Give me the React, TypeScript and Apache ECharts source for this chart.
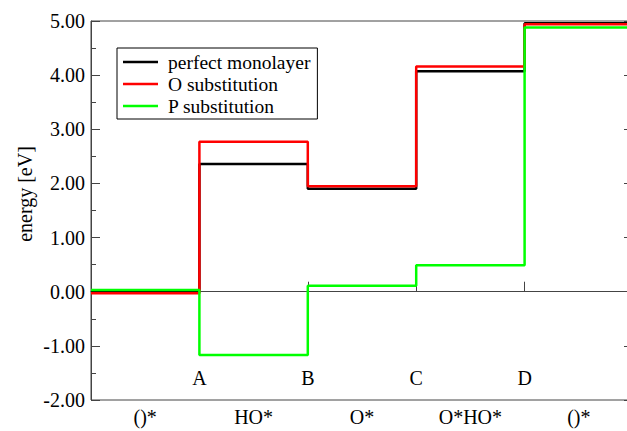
import React, { useEffect, useRef } from "react";
import * as echarts from "echarts";

const stepLabels = ["", "A", "B", "C", "D", ""];
const states = ["()*", "HO*", "O*", "O*HO*", "()*"];
const perfect = [0.0, 2.36, 1.9, 4.07, 4.96];
const oSub = [-0.03, 2.77, 1.95, 4.16, 4.94];
const pSub = [0.03, -1.17, 0.11, 0.49, 4.88];
const seriesNames = ["perfect monolayer", "O substitution", "P substitution"];
const seriesColors = ["#000000", "#ff0000", "#00ff00"];

const toSteps = (vals: number[]) => {
  const pts = vals.map((v, i) => [i, v]);
  pts.push([vals.length, vals[vals.length - 1]]);
  return pts;
};

const FONT = "Liberation Serif";
const AXIS = "#444444";

export default function App() {
  const ref = useRef<HTMLDivElement>(null);
  useEffect(() => {
    if (!ref.current) return;
    const chart = echarts.init(ref.current, null, { renderer: "svg" });
    const all = [perfect, oSub, pSub];
    chart.setOption({
      animation: false,
      backgroundColor: "#ffffff",
      grid: {
        left: 91,
        top: 21,
        right: -6,
        bottom: 31,
        containLabel: false,
        outerBoundsMode: "none",
        show: true,
        borderColor: AXIS,
        borderWidth: 1,
        backgroundColor: "transparent",
      },
      legend: {
        orient: "vertical",
        left: 117,
        top: 48,
        data: seriesNames,
        icon: "rect",
        itemWidth: 35,
        itemHeight: 2.5,
        itemGap: 2,
        padding: [4, 7, 3, 6],
        borderColor: "#000",
        borderWidth: 1,
        textStyle: { fontFamily: FONT, fontSize: 19.5, lineHeight: 19.5, color: "#000", padding: [0, 0, 0, 5] },
      },
      graphic: [
        {
          type: "text",
          x: 25,
          y: 194,
          rotation: Math.PI / 2,
          style: {
            text: "energy [eV]",
            font: `20px '${FONT}'`,
            fill: "#000",
            align: "center",
            verticalAlign: "middle",
          },
        },
      ],
      xAxis: [
        {
          type: "value",
          min: 0,
          max: 5,
          interval: 1,
          position: "bottom",
          axisLine: { show: true, lineStyle: { color: AXIS, width: 1 } },
          axisTick: { show: true, inside: true, length: 10, lineStyle: { color: AXIS } },
          splitLine: { show: false },
          axisLabel: {
            inside: true,
            margin: 12,
            fontFamily: FONT,
            fontSize: 20,
            color: "#000",
            formatter: (v: number) => stepLabels[Math.round(v)] ?? "",
          },
        },
        {
          type: "category",
          data: states,
          position: "bottom",
          boundaryGap: true,
          axisLine: { show: false },
          axisTick: { show: false },
          splitLine: { show: false },
          axisLabel: { margin: 7, fontFamily: FONT, fontSize: 20, color: "#000", interval: 0 },
        },
      ],
      yAxis: [
        {
          type: "value",
          min: -2,
          max: 5,
          interval: 1,
          position: "left",
          axisLine: { show: true, lineStyle: { color: AXIS, width: 1 } },
          axisTick: { show: true, inside: true, length: 9, lineStyle: { color: AXIS } },
          minorTick: { show: true, splitNumber: 2, length: 5, lineStyle: { color: AXIS } },
          splitLine: { show: false },
          axisLabel: {
            margin: 6,
            fontFamily: FONT,
            fontSize: 20,
            color: "#000",
            formatter: (v: number) => v.toFixed(2),
          },
        },
        {
          type: "value",
          min: -2,
          max: 5,
          interval: 1,
          position: "right",
          axisLine: { show: true, lineStyle: { color: AXIS, width: 1 } },
          axisTick: { show: true, inside: true, length: 9, lineStyle: { color: AXIS } },
          minorTick: { show: true, splitNumber: 2, length: 5, lineStyle: { color: AXIS } },
          splitLine: { show: false },
          axisLabel: { show: false },
        },
      ],
      series: all.map((vals, i) => ({
        name: seriesNames[i],
        type: "line",
        step: "end",
        xAxisIndex: 0,
        yAxisIndex: 0,
        symbol: "none",
        showSymbol: false,
        color: seriesColors[i],
        lineStyle: { color: seriesColors[i], width: 2.5 },
        data: toSteps(vals),
        z: 2 + i,
      })),
    });
    return () => chart.dispose();
  }, []);
  return <div ref={ref} style={{ width: 627, height: 431, position: "absolute", left: 0, top: 0 }} />;
}
